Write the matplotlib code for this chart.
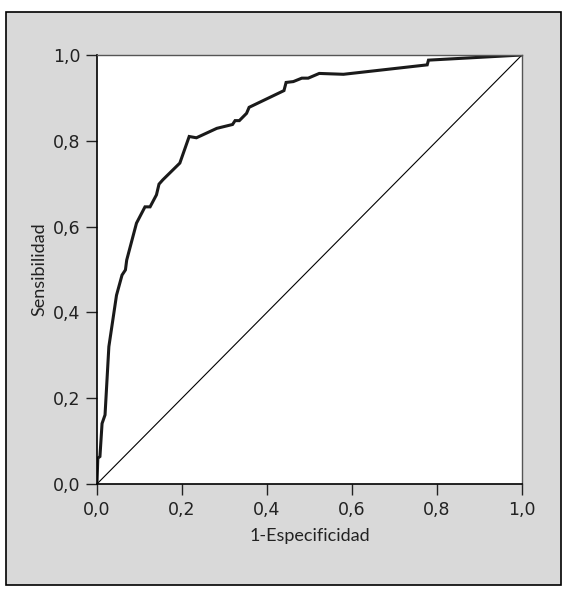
import numpy as np
import matplotlib
matplotlib.use("Agg")
import matplotlib.pyplot as plt
from matplotlib.patches import Rectangle
from matplotlib.ticker import FuncFormatter

# ROC curve
fpr = [0.0, 0.002, 0.007, 0.012, 0.019, 0.028, 0.046, 0.059, 0.067, 0.07,
       0.093, 0.113, 0.125, 0.14, 0.146, 0.155, 0.195, 0.217, 0.234, 0.282,
       0.319, 0.325, 0.335, 0.352, 0.358, 0.44, 0.445, 0.462, 0.482, 0.497,
       0.523, 0.58, 0.777, 0.78, 1.0]
tpr = [0.0, 0.06, 0.064, 0.141, 0.161, 0.32, 0.44, 0.487, 0.499, 0.522,
       0.608, 0.646, 0.646, 0.674, 0.699, 0.709, 0.748, 0.81, 0.807, 0.829,
       0.838, 0.847, 0.847, 0.864, 0.878, 0.917, 0.936, 0.938, 0.946, 0.946,
       0.957, 0.955, 0.977, 0.988, 1.0]
ticks = [0.0, 0.2, 0.4, 0.6, 0.8, 1.0]

plt.rcParams['font.family'] = ['Lato', 'DejaVu Sans']

fig = plt.figure(figsize=(5.67, 5.90), dpi=100, facecolor="white")
frame = Rectangle((0.0106, 0.0085), 0.978, 0.971, transform=fig.transFigure,
                  facecolor="#d9d9d9", edgecolor="black", linewidth=1.2, zorder=-10)
fig.add_artist(frame)

ax = fig.add_axes([0.171, 0.1797, 0.7496, 0.7271])
ax.set_facecolor("white")
ax.plot([0, 1], [0, 1], color="black", linewidth=0.8)
ax.plot(fpr, tpr, color="#1a1a1a", linewidth=2.2, solid_joinstyle="miter")

ax.set_xlim(0, 1)
ax.set_ylim(0, 1)
ax.set_xticks(ticks)
ax.set_yticks(ticks)
fmt = FuncFormatter(lambda v, p: f"{v:.1f}".replace(".", ","))
ax.xaxis.set_major_formatter(fmt)
ax.yaxis.set_major_formatter(fmt)
ax.tick_params(direction="out", length=8, width=1, colors="#222222", pad=4)
for lab in ax.get_xticklabels() + ax.get_yticklabels():
    lab.set_fontfamily(['DejaVu Sans'])
    lab.set_fontsize(12.5)
for side in ["left", "bottom"]:
    ax.spines[side].set_linewidth(1.2)
for side in ["top", "right"]:
    ax.spines[side].set_linewidth(1.0)
    ax.spines[side].set_color("#555555")

ax.set_xlabel("1-Especificidad", fontsize=13, color="#222222", labelpad=7)
ax.set_ylabel("Sensibilidad", fontsize=13, color="#222222", labelpad=4)

fig.savefig("out.png", dpi=100)
